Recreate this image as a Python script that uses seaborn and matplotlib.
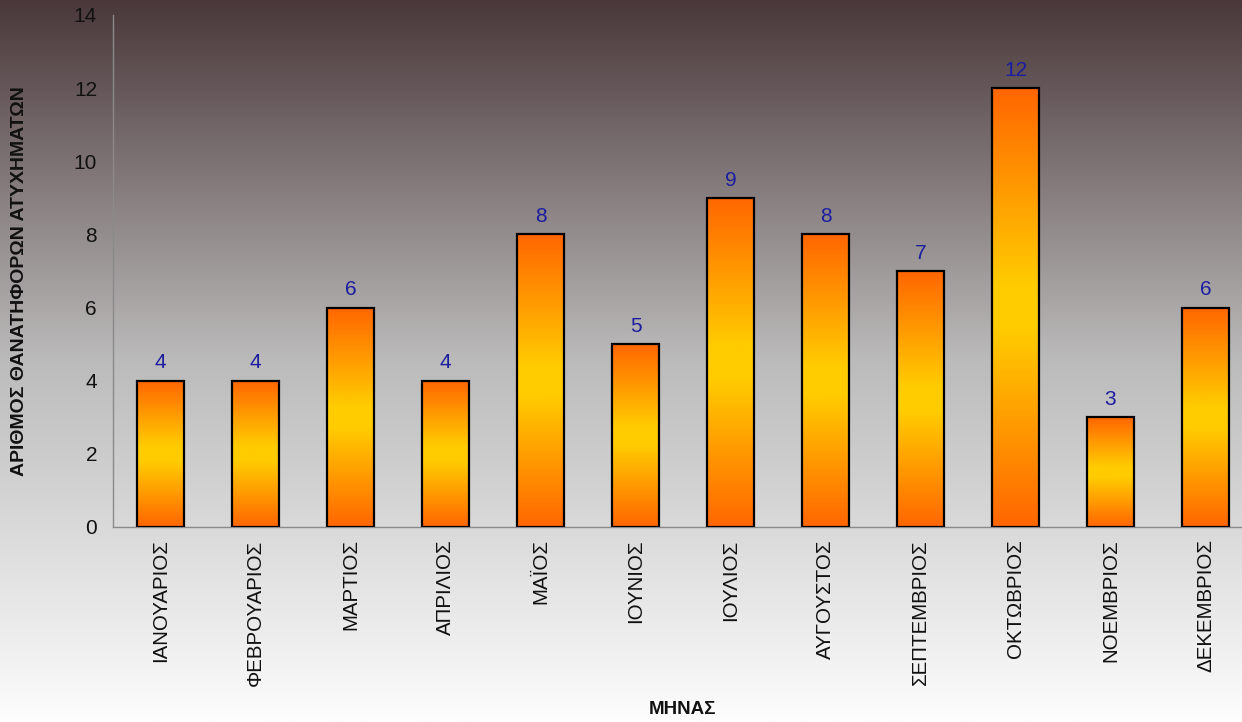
import numpy as np
import pandas as pd
import matplotlib
matplotlib.use("Agg")
import matplotlib.pyplot as plt
import seaborn as sns
from matplotlib.colors import LinearSegmentedColormap

# ======================
# DATA
# ======================
months = ["ΙΑΝΟΥΑΡΙΟΣ", "ΦΕΒΡΟΥΑΡΙΟΣ", "ΜΑΡΤΙΟΣ", "ΑΠΡΙΛΙΟΣ", "ΜΑΪΟΣ", "ΙΟΥΝΙΟΣ",
          "ΙΟΥΛΙΟΣ", "ΑΥΓΟΥΣΤΟΣ", "ΣΕΠΤΕΜΒΡΙΟΣ", "ΟΚΤΩΒΡΙΟΣ", "ΝΟΕΜΒΡΙΟΣ", "ΔΕΚΕΜΒΡΙΟΣ"]
deaths = [4, 4, 6, 4, 8, 5, 9, 8, 7, 12, 3, 6]
y_ticks = [0, 2, 4, 6, 8, 10, 12, 14]

df = pd.DataFrame({"month": months, "deaths": deaths})

# ======================
# STYLE
# ======================
sns.set_style("white")
plt.rcParams['font.family'] = ['Liberation Sans', 'DejaVu Sans']

fig = plt.figure(figsize=(12.42, 7.22), dpi=100)

# background gradient (dark top -> white bottom)
bg_cmap = LinearSegmentedColormap.from_list(
    "bg", [(0.0, "#4a383a"), (0.5, "#bcbbbb"), (1.0, "#fdfdfd")])
bg = fig.add_axes([0, 0, 1, 1], zorder=-1)
bg.imshow(np.linspace(0, 1, 256).reshape(-1, 1), cmap=bg_cmap,
          aspect="auto", extent=[0, 1, 0, 1])
bg.axis("off")

ax = fig.add_axes([113 / 1242, 1 - 527 / 722, 1140 / 1242, 512 / 722])
ax.set_facecolor("none")

sns.barplot(data=df, x="month", y="deaths", color="#ff9900", width=0.5,
            edgecolor="black", linewidth=1.6, ax=ax)

# gradient fill for each bar
bar_cmap = LinearSegmentedColormap.from_list(
    "bar", [(0.0, "#ff6600"), (0.45, "#ffcc00"), (0.55, "#ffcc00"), (1.0, "#ff6600")])
grad = np.linspace(0, 1, 256).reshape(-1, 1)
for p in ax.patches:
    x0, y0 = p.get_x(), p.get_y()
    w, h = p.get_width(), p.get_height()
    im = ax.imshow(grad, cmap=bar_cmap, aspect="auto",
                   extent=[x0, x0 + w, y0, y0 + h], zorder=2.5)
    im.set_clip_path(p)
    p.set_facecolor("none")
    p.set_zorder(3)

ax.set_xlim(-0.5, len(months) - 0.5)
ax.set_ylim(0, 14)
ax.set_yticks(y_ticks)

# value labels
for i, v in enumerate(deaths):
    ax.annotate(str(v), (i, v), xytext=(0, 6), textcoords="offset points",
                ha="center", va="bottom", fontsize=15, color="#1c1ca0")

# axes styling
for s in ["top", "right"]:
    ax.spines[s].set_visible(False)
for s in ["left", "bottom"]:
    ax.spines[s].set_color("#8a8a8a")
    ax.spines[s].set_linewidth(1.0)

ax.tick_params(axis="y", which="major", length=4.5, width=1, color="#8a8a8a",
               pad=7, labelsize=15, labelcolor="#111111")
ax.tick_params(axis="x", which="major", length=0, pad=9, labelsize=14.8,
               labelcolor="#111111")
ax.set_xticks(np.arange(-0.5, len(months), 1), minor=True)
ax.tick_params(axis="x", which="minor", length=5, width=1, color="#8a8a8a")
plt.setp(ax.get_xticklabels(), rotation=90)

ax.set_ylabel("ΑΡΙΘΜΟΣ ΘΑΝΑΤΗΦΟΡΩΝ ΑΤΥΧΗΜΑΤΩΝ", fontsize=14,
              fontweight="bold", color="#111111")
ax.yaxis.set_label_coords(-0.0745, 0.48)
ax.set_xlabel("ΜΗΝΑΣ", fontsize=13.5, fontweight="bold", color="#111111")
ax.xaxis.set_label_coords(0.5, -0.34)

plt.savefig("out.png", dpi=100)
